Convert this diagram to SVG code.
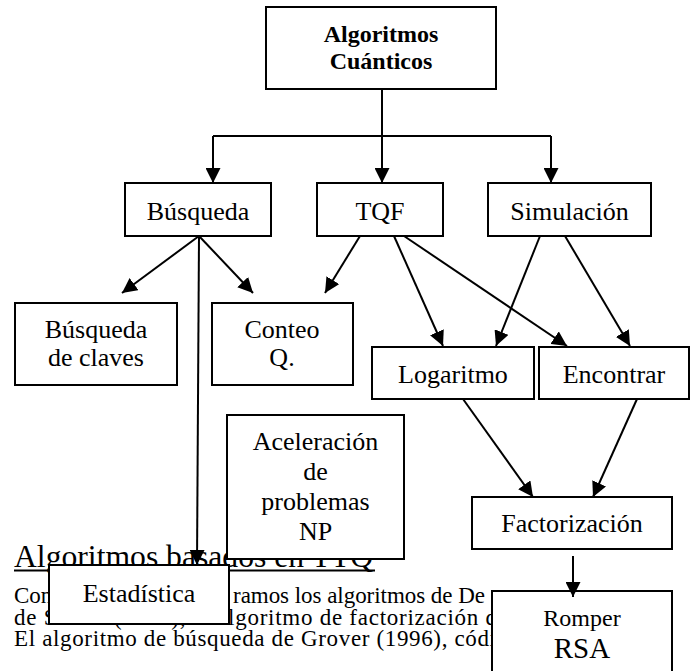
<svg xmlns="http://www.w3.org/2000/svg" width="694" height="671" viewBox="0 0 694 671" font-family="'Liberation Serif', 'Times New Roman', Times, 'DejaVu Serif', serif">
<style>
.box{fill:#fff;stroke:#000;stroke-width:2}
.lbl{font-size:26px;text-anchor:middle}
.par{font-size:23px}
.con{fill:none;stroke:#000;stroke-width:2}
</style>
<defs>
<marker id="ah" markerUnits="userSpaceOnUse" markerWidth="15" markerHeight="15" viewBox="0 0 14 14" refX="14" refY="7" orient="auto">
<path d="M0,0 L14,7 L0,14 z" fill="#000"/>
</marker>
</defs>
<g id="background-text">
<text x="14" y="567" font-size="32" textLength="359" lengthAdjust="spacingAndGlyphs">Algoritmos basados en TTQ</text>
<line x1="14" y1="570.5" x2="375" y2="570.5" stroke="#000" stroke-width="2"/>
<text class="par" x="14" y="603">Con</text>
<text class="par" x="233" y="603" textLength="252" lengthAdjust="spacing">ramos los algoritmos de De</text>
<text class="par" x="14" y="625" textLength="483" lengthAdjust="spacing">de Simon (1994), el algoritmo de factorización d</text>
<text class="par" x="14" y="646" textLength="482" lengthAdjust="spacing">El algoritmo de búsqueda de Grover (1996), códi</text>
</g>
<g id="n-algoritmos">
<rect class="box" x="266" y="7" width="230" height="82"/>
<text x="381" y="42" font-size="24" font-weight="bold" text-anchor="middle">Algoritmos</text>
<text x="381" y="69" font-size="24" font-weight="bold" text-anchor="middle">Cuánticos</text>
</g>
<g id="n-busqueda">
<rect class="box" x="125" y="183" width="146" height="53"/>
<text class="lbl" x="198" y="220">Búsqueda</text>
</g>
<g id="n-tqf">
<rect class="box" x="317" y="183" width="126" height="53"/>
<text class="lbl" x="380" y="220">TQF</text>
</g>
<g id="n-simulacion">
<rect class="box" x="488" y="183" width="163" height="53"/>
<text class="lbl" x="569.5" y="220">Simulación</text>
</g>
<g id="n-claves">
<rect class="box" x="15" y="303" width="162" height="82"/>
<text class="lbl" x="96" y="338">Búsqueda</text>
<text class="lbl" x="96" y="366">de claves</text>
</g>
<g id="n-conteo">
<rect class="box" x="212" y="303" width="141" height="82"/>
<text class="lbl" x="282" y="338">Conteo</text>
<text class="lbl" x="282" y="366">Q.</text>
</g>
<g id="n-logaritmo">
<rect class="box" x="372" y="347" width="162" height="52"/>
<text class="lbl" x="453" y="383">Logaritmo</text>
</g>
<g id="n-encontrar">
<rect class="box" x="539" y="347" width="150" height="52"/>
<text class="lbl" x="614" y="383">Encontrar</text>
</g>
<g id="n-aceleracion">
<rect class="box" x="227" y="415" width="177" height="144"/>
<text class="lbl" x="315.5" y="450">Aceleración</text>
<text class="lbl" x="315.5" y="480">de</text>
<text class="lbl" x="315.5" y="510">problemas</text>
<text class="lbl" x="315.5" y="540">NP</text>
</g>
<g id="n-factorizacion">
<rect class="box" x="472" y="497" width="200" height="52"/>
<text class="lbl" x="572" y="532">Factorización</text>
</g>
<g id="n-estadistica">
<rect class="box" x="49" y="565" width="180" height="59"/>
<text class="lbl" x="139" y="602">Estadística</text>
</g>
<g id="n-romper">
<rect class="box" x="492" y="591" width="180" height="100"/>
<text x="582" y="626" font-size="24" text-anchor="middle">Romper</text>
<text x="582" y="658" font-size="29" text-anchor="middle">RSA</text>
</g>
<g id="connectors">
<path class="con" d="M382,89 V136 M213,136 H551"/>
<path class="con" d="M213,136 V183" marker-end="url(#ah)"/>
<path class="con" d="M382,136 V183" marker-end="url(#ah)"/>
<path class="con" d="M551,136 V183" marker-end="url(#ah)"/>
<path class="con" d="M199,236 L122,293" marker-end="url(#ah)"/>
<path class="con" d="M199,236 L253,293" marker-end="url(#ah)"/>
<path class="con" d="M199,236 L197,565" marker-end="url(#ah)"/>
<path class="con" d="M360,236 L325,293" marker-end="url(#ah)"/>
<path class="con" d="M394,236 L443,346" marker-end="url(#ah)"/>
<path class="con" d="M404,236 L567,346" marker-end="url(#ah)"/>
<path class="con" d="M540,236 L496,346" marker-end="url(#ah)"/>
<path class="con" d="M565,236 L630,346" marker-end="url(#ah)"/>
<path class="con" d="M463,399 L533,497" marker-end="url(#ah)"/>
<path class="con" d="M637,399 L593,497" marker-end="url(#ah)"/>
<path class="con" d="M573,556 V597" marker-end="url(#ah)"/>
</g>
</svg>
